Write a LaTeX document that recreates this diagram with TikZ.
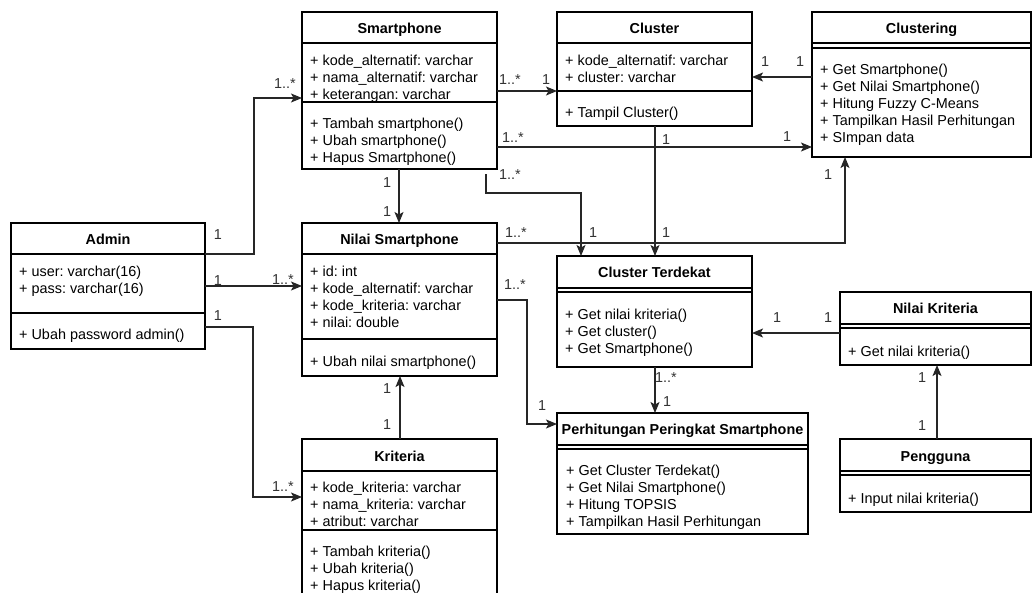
\documentclass[tikz,border=0pt]{standalone}
\usepackage{fontspec}
\setmainfont{Liberation Sans}
\usetikzlibrary{arrows.meta,calc}
\frenchspacing
\tikzset{
  box/.style={draw=black, line width=1.1pt, anchor=north west, inner sep=0pt, outer sep=0pt},
  sepline/.style={draw=black, line width=1.1pt},
  member/.style={anchor=base west, inner sep=0pt, font=\fontsize{14.4}{17}\selectfont},
  classtitle/.style={anchor=base, inner sep=0pt, font=\fontsize{14.4}{17}\selectfont\bfseries},
  mult/.style={inner sep=0pt, font=\fontsize{14.4}{17}\selectfont, text=black!80},
  assoc/.style={draw=black!85, line width=1.2pt, -{Stealth[length=11pt,width=9pt,inset=2.5pt]}},
}
\newcommand\memberlist[4]{\foreach \t [count=\i] in {#4} {\node[member] (#1\i) at (#2,{#3+17*(\i-1)}) {\t};}}
\newcommand\hsep[2]{\draw[sepline] ([yshift=-#2]#1.north west) -- ([yshift=-#2]#1.north east);}
\begin{document}
\begin{tikzpicture}[x=1pt,y=-1pt]
\useasboundingbox (0,0) rectangle (1032,592);
\clip (0,0) rectangle (1032,592);

% ---------- Smartphone
\node[box, minimum width=195pt, minimum height=157pt] (sp) at (302,12) {};
\hsep{sp}{31pt}\hsep{sp}{90pt}
\node[classtitle] (sp-t) at ([yshift=-21pt]sp.north) {Smartphone};
\memberlist{sp-a}{310}{65}{+ kode\_alternatif: varchar, + nama\_alternatif: varchar, + keterangan: varchar}
\memberlist{sp-m}{310}{128}{+ Tambah smartphone(), + Ubah smartphone(), + Hapus Smartphone()}

% ---------- Cluster
\node[box, minimum width=195pt, minimum height=114pt] (cl) at (557,12) {};
\hsep{cl}{31pt}\hsep{cl}{79pt}
\node[classtitle] (cl-t) at ([yshift=-21pt]cl.north) {Cluster};
\memberlist{cl-a}{565}{65}{+ kode\_alternatif: varchar, + cluster: varchar}
\memberlist{cl-m}{565}{117}{+ Tampil Cluster()}

% ---------- Clustering
\node[box, minimum width=219pt, minimum height=145pt] (cg) at (812,12) {};
\hsep{cg}{31pt}\hsep{cg}{36pt}
\node[classtitle] (cg-t) at ([yshift=-21pt]cg.north) {Clustering};
\memberlist{cg-m}{820}{74}{+ Get Smartphone(), + Get Nilai Smartphone(), + Hitung Fuzzy C-Means, + Tampilkan Hasil Perhitungan, + SImpan data}

% ---------- Admin
\node[box, minimum width=194pt, minimum height=126pt] (admin) at (11,223) {};
\hsep{admin}{31pt}\hsep{admin}{90pt}
\node[classtitle] (admin-t) at ([yshift=-21pt]admin.north) {Admin};
\memberlist{admin-a}{19}{276}{+ user: varchar(16), + pass: varchar(16)}
\memberlist{admin-m}{19}{339}{+ Ubah password admin()}

% ---------- Nilai Smartphone
\node[box, minimum width=195pt, minimum height=153pt] (nsp) at (302,223) {};
\hsep{nsp}{31pt}\hsep{nsp}{116pt}
\node[classtitle] (nsp-t) at ([yshift=-21pt]nsp.north) {Nilai Smartphone};
\memberlist{nsp-a}{310}{276}{+ id: int, + kode\_alternatif: varchar, + kode\_kriteria: varchar, + nilai: double}
\memberlist{nsp-m}{310}{366}{+ Ubah nilai smartphone()}

% ---------- Cluster Terdekat
\node[box, minimum width=195pt, minimum height=111pt] (ct) at (557,256) {};
\hsep{ct}{32pt}\hsep{ct}{36pt}
\node[classtitle] (ct-t) at ([yshift=-21pt]ct.north) {Cluster Terdekat};
\memberlist{ct-m}{565}{319}{+ Get nilai kriteria(), + Get cluster(), + Get Smartphone()}

% ---------- Nilai Kriteria
\node[box, minimum width=191pt, minimum height=73pt] (nk) at (840,292) {};
\hsep{nk}{32pt}\hsep{nk}{36pt}
\node[classtitle] (nk-t) at ([yshift=-21pt]nk.north) {Nilai Kriteria};
\memberlist{nk-m}{848}{356}{+ Get nilai kriteria()}

% ---------- Pengguna
\node[box, minimum width=191pt, minimum height=73pt] (pg) at (840,439) {};
\hsep{pg}{32pt}\hsep{pg}{36pt}
\node[classtitle] (pg-t) at ([yshift=-22pt]pg.north) {Pengguna};
\memberlist{pg-m}{848}{503}{+ Input nilai kriteria()}

% ---------- Kriteria
\node[box, minimum width=195pt, minimum height=161pt] (kri) at (302,439) {};
\hsep{kri}{32pt}\hsep{kri}{91pt}
\node[classtitle] (kri-t) at ([yshift=-22pt]kri.north) {Kriteria};
\memberlist{kri-a}{310}{492}{+ kode\_kriteria: varchar, + nama\_kriteria: varchar, + atribut: varchar}
\memberlist{kri-m}{310}{556}{+ Tambah kriteria(), + Ubah kriteria(), + Hapus kriteria()}

% ---------- Perhitungan Peringkat Smartphone
\node[box, minimum width=251pt, minimum height=121pt] (ph) at (557,413) {};
\hsep{ph}{32pt}\hsep{ph}{36pt}
\node[classtitle] (ph-t) at ([yshift=-21pt]ph.north) {Perhitungan Peringkat Smartphone};
\memberlist{ph-m}{566}{475}{+ Get Cluster Terdekat(), + Get Nilai Smartphone(), + Hitung TOPSIS, + Tampilkan Hasil Perhitungan}

% ---------- connectors
\draw[assoc] ([yshift=-31pt]admin.north east) -- ++(49pt,0pt) |- ([yshift=-86pt]sp.north west);
\draw[assoc] ([yshift=-63pt]admin.north east) -- ([yshift=-63pt]nsp.north west);
\draw[assoc] ([yshift=-104pt]admin.north east) -- ++(48pt,0pt) |- ([yshift=-58pt]kri.north west);
\draw[assoc] ([yshift=-79pt]sp.north east) -- ([yshift=-79pt]cl.north west);
\draw[assoc] ([yshift=-135pt]sp.north east) -- ([yshift=-135pt]cg.north west);
\coordinate (e6s) at ([xshift=-11pt,yshift=-5pt]sp.south east);
\draw[assoc] (e6s) -- ++(0pt,-19pt) -| ([xshift=24pt]ct.north west);
\draw[assoc] ([xshift=98pt]cl.south west) -- ([xshift=98pt]ct.north west);
\draw[assoc] ([yshift=-20pt]nsp.north east) -| ([xshift=33pt]cg.south west);
\draw[assoc] ([yshift=-65pt]cg.north west) -- ([yshift=-65pt]cl.north east);
\draw[assoc] ([yshift=-77pt]nsp.north east) -- ++(30pt,0pt) |- ([yshift=-11pt]ph.north west);
\draw[assoc] ([xshift=98pt]ct.south west) -- ([xshift=98pt]ph.north west);
\coordinate (e12s) at ([yshift=-41pt]nk.north west);
\draw[assoc] (e12s) -- (ct.east |- e12s);
\draw[assoc] ([xshift=97pt]pg.north west) -- ([xshift=97pt]nk.south west);
\draw[assoc] ([xshift=98pt]kri.north west) -- ([xshift=98pt]nsp.south west);
\draw[assoc] ([xshift=97pt]sp.south west) -- ([xshift=97pt]nsp.north west);

% ---------- multiplicities
\node[mult] (l1)  at (285,84)  {1..*};
\node[mult] (l2)  at (218,235) {1};
\node[mult] (l3)  at (218,281) {1};
\node[mult] (l4)  at (283,280) {1..*};
\node[mult] (l5)  at (218,316) {1};
\node[mult] (l6)  at (283,487) {1..*};
\node[mult] (l7)  at (510,80)  {1..*};
\node[mult] (l8)  at (546,80)  {1};
\node[mult] (l9)  at (513,138) {1..*};
\node[mult] (l10) at (787,137) {1};
\node[mult] (l11) at (666,140) {1};
\node[mult] (l12) at (666,233) {1};
\node[mult] (l13) at (510,175) {1..*};
\node[mult] (l14) at (593,233) {1};
\node[mult] (l15) at (516,233) {1..*};
\node[mult] (l16) at (828,175) {1};
\node[mult] (l17) at (765,62)  {1};
\node[mult] (l18) at (800,62)  {1};
\node[mult] (l19) at (515,285) {1..*};
\node[mult] (l20) at (542,406) {1};
\node[mult] (l21) at (666,378) {1..*};
\node[mult] (l22) at (667,402) {1};
\node[mult] (l23) at (777,318) {1};
\node[mult] (l24) at (828,318) {1};
\node[mult] (l25) at (922,378) {1};
\node[mult] (l26) at (922,426) {1};
\node[mult] (l27) at (387,389) {1};
\node[mult] (l28) at (387,425) {1};
\node[mult] (l29) at (387,183) {1};
\node[mult] (l30) at (387,212) {1};
\end{tikzpicture}
\end{document}
